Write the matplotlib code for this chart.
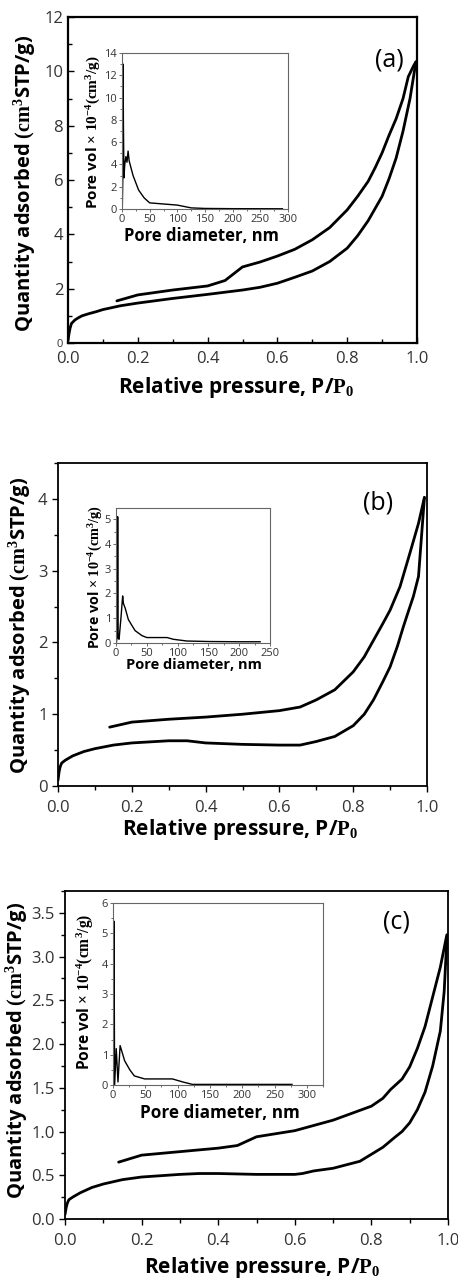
import matplotlib
matplotlib.use("Agg")
import matplotlib.pyplot as plt
from matplotlib.ticker import MultipleLocator, FormatStrFormatter

plt.rcParams['font.family'] = ['Open Sans', 'DejaVu Sans']
plt.rcParams['mathtext.fontset'] = 'custom'
plt.rcParams['mathtext.rm'] = 'Liberation Serif'
plt.rcParams['mathtext.bf'] = 'Liberation Serif:bold'
plt.rcParams['mathtext.it'] = 'Liberation Serif:italic'

# ---------------- data (a) ----------------
a_ads_x = [0.0, 0.003, 0.006, 0.01, 0.02, 0.03, 0.04, 0.06, 0.08, 0.1, 0.15, 0.2, 0.3, 0.4, 0.5, 0.55, 0.6, 0.65, 0.7, 0.75, 0.8, 0.83, 0.86, 0.88, 0.9, 0.92, 0.94, 0.96, 0.98, 0.99, 0.997]
a_ads_y = [0.1, 0.35, 0.55, 0.72, 0.85, 0.93, 1.0, 1.08, 1.15, 1.23, 1.37, 1.47, 1.64, 1.79, 1.95, 2.05, 2.2, 2.42, 2.65, 3.0, 3.49, 3.95, 4.5, 4.95, 5.4, 6.05, 6.8, 7.8, 9.0, 9.8, 10.35]
a_des_x = [0.14, 0.2, 0.3, 0.4, 0.45, 0.5, 0.55, 0.6, 0.65, 0.7, 0.75, 0.8, 0.83, 0.86, 0.88, 0.9, 0.92, 0.94, 0.96, 0.975, 0.99, 0.997]
a_des_y = [1.55, 1.77, 1.95, 2.1, 2.3, 2.8, 2.98, 3.2, 3.45, 3.8, 4.25, 4.9, 5.4, 5.95, 6.45, 7.0, 7.65, 8.25, 9.0, 9.8, 10.2, 10.35]
a_pore_x = [0.5, 1.5, 2.0, 2.5, 3.5, 5, 7, 9, 11, 13, 20, 30, 40, 50, 75, 100, 125, 150, 200, 290]
a_pore_y = [0.0, 3.0, 13.0, 8.0, 2.8, 4.0, 4.7, 4.2, 5.2, 4.3, 3.0, 1.7, 1.0, 0.55, 0.45, 0.35, 0.1, 0.05, 0.03, 0.02]

# ---------------- data (b) ----------------
b_ads_x = [0.0, 0.003, 0.006, 0.01, 0.02, 0.04, 0.07, 0.1, 0.15, 0.2, 0.3, 0.35, 0.4, 0.5, 0.6, 0.656, 0.7, 0.75, 0.8, 0.83, 0.855, 0.88, 0.9, 0.92, 0.936, 0.95, 0.963, 0.977, 0.985, 0.993]
b_ads_y = [0.08, 0.2, 0.27, 0.32, 0.36, 0.42, 0.48, 0.52, 0.57, 0.6, 0.63, 0.63, 0.6, 0.58, 0.57, 0.57, 0.62, 0.69, 0.84, 1.0, 1.2, 1.45, 1.66, 1.95, 2.22, 2.44, 2.64, 2.92, 3.47, 4.02]
b_des_x = [0.14, 0.2, 0.3, 0.4, 0.5, 0.6, 0.656, 0.7, 0.75, 0.8, 0.83, 0.855, 0.88, 0.9, 0.927, 0.954, 0.977, 0.993]
b_des_y = [0.82, 0.89, 0.93, 0.96, 1.0, 1.05, 1.1, 1.2, 1.34, 1.59, 1.8, 2.03, 2.26, 2.45, 2.78, 3.25, 3.66, 4.02]
b_pore_x = [0.5, 2.0, 2.7, 3.5, 5, 8, 10.8, 12, 15, 20, 26, 31, 42, 50, 70, 83, 93, 115, 150, 200, 234]
b_pore_y = [0.0, 0.3, 5.1, 0.2, 0.15, 1.0, 1.9, 1.6, 1.4, 0.95, 0.7, 0.5, 0.3, 0.22, 0.22, 0.22, 0.15, 0.08, 0.06, 0.05, 0.05]

# ---------------- data (c) ----------------
c_ads_x = [0.0, 0.003, 0.006, 0.01, 0.02, 0.04, 0.07, 0.1, 0.15, 0.2, 0.3, 0.35, 0.4, 0.5, 0.6, 0.62, 0.65, 0.7, 0.77, 0.8, 0.83, 0.86, 0.88, 0.9, 0.92, 0.94, 0.96, 0.97, 0.98, 0.99, 0.997]
c_ads_y = [0.05, 0.13, 0.18, 0.22, 0.25, 0.3, 0.36, 0.4, 0.45, 0.48, 0.51, 0.52, 0.52, 0.51, 0.51, 0.52, 0.55, 0.58, 0.66, 0.74, 0.82, 0.93, 1.0, 1.1, 1.25, 1.45, 1.75, 1.95, 2.15, 2.6, 3.2]
c_des_x = [0.14, 0.2, 0.3, 0.4, 0.45, 0.5, 0.6, 0.7, 0.8, 0.83, 0.85, 0.88, 0.9, 0.92, 0.94, 0.96, 0.98, 0.997]
c_des_y = [0.65, 0.73, 0.77, 0.81, 0.84, 0.94, 1.01, 1.13, 1.29, 1.38, 1.48, 1.6, 1.74, 1.95, 2.2, 2.54, 2.88, 3.25]
c_pore_x = [0.5, 1.5, 2.5, 5, 7.7, 11, 18, 26, 33, 49, 92, 108, 123, 200, 277]
c_pore_y = [0.0, 5.4, 0.0, 1.2, 0.1, 1.3, 0.8, 0.5, 0.3, 0.2, 0.2, 0.1, 0.02, 0.02, 0.02]

W, H = 458, 1280
fig = plt.figure(figsize=(W / 100, H / 100), dpi=100)


def rect(l, r, t, b):
    return [l / W, (H - b) / H, (r - l) / W, (b - t) / H]


def ftxt(x, y, s, **kw):
    fig.text(x / W, (H - y) / H, s, **kw)


TICK_COLOR = '#333333'
YLAB = r'Quantity adsorbed $\mathbf{(cm^{3}}$STP/g)'
XLAB = r'Relative pressure, P/$\mathbf{P_{0}}$'
ILAB_Y = r'Pore vol $\mathbf{\times\ 10^{-4}(cm^{3}/g)}$'
ILAB_X = 'Pore diameter, nm'


def main_axes(box, ads_x, ads_y, des_x, des_y, ylim, ymaj, ymin, direction, lw_frame, yfmt=None):
    ax = fig.add_axes(rect(*box))
    ax.plot(ads_x, ads_y, color='black', lw=2.0, solid_capstyle='round', solid_joinstyle='round')
    ax.plot(des_x, des_y, color='black', lw=2.0, solid_capstyle='round', solid_joinstyle='round')
    ax.set_xlim(0, 1.0)
    ax.set_ylim(*ylim)
    ax.xaxis.set_major_locator(MultipleLocator(0.2))
    ax.xaxis.set_minor_locator(MultipleLocator(0.1))
    ax.yaxis.set_major_locator(MultipleLocator(ymaj))
    ax.yaxis.set_minor_locator(MultipleLocator(ymin))
    ax.xaxis.set_major_formatter(FormatStrFormatter('%.1f'))
    if yfmt:
        ax.yaxis.set_major_formatter(FormatStrFormatter(yfmt))
    ax.tick_params(which='both', direction=direction, colors='black', labelcolor=TICK_COLOR,
                   labelsize=12, width=1.0, top=False, right=False)
    ax.tick_params(which='major', length=4)
    ax.tick_params(which='minor', length=3)
    ax.tick_params(axis='x', pad=6)
    for s in ax.spines.values():
        s.set_linewidth(lw_frame)
    return ax


def inset_axes(box, px, py, xlim, xmaj, ylim, ymaj):
    ax = fig.add_axes(rect(*box))
    ax.plot(px, py, color='black', lw=1.0)
    ax.set_xlim(*xlim)
    ax.set_ylim(*ylim)
    ax.xaxis.set_major_locator(MultipleLocator(xmaj))
    ax.xaxis.set_minor_locator(MultipleLocator(xmaj / 2))
    ax.yaxis.set_major_locator(MultipleLocator(ymaj))
    ax.yaxis.set_minor_locator(MultipleLocator(ymaj / 2))
    ax.tick_params(which='both', direction='out', colors='#555555', labelcolor='#333333',
                   labelsize=8, width=0.6, pad=1)
    ax.tick_params(which='major', length=2.5)
    ax.tick_params(which='minor', length=1.5)
    for s in ax.spines.values():
        s.set_linewidth(0.8)
        s.set_color('#666666')
    return ax


# ---------------- panel (a) ----------------
axa = main_axes((68, 417, 17, 343), a_ads_x, a_ads_y, a_des_x, a_des_y, (0, 12), 2, 1, 'in', 1.6)
for lab in axa.get_yticklabels():
    if lab.get_text() == '0':
        lab.set_fontsize(8)
ftxt(389, 60, '(a)', fontsize=18, ha='center', va='center')
ina = inset_axes((122, 288, 53, 209), a_pore_x, a_pore_y, (0, 300), 50, (0, 14), 2)
ftxt(236, 387, XLAB, fontsize=15, fontweight='bold', ha='center', va='center')
ftxt(25, 183, YLAB, fontsize=14.5, fontweight='bold', ha='center', va='center', rotation=90)
ftxt(201, 236, ILAB_X, fontsize=12, fontweight='bold', ha='center', va='center')
ftxt(94, 132, ILAB_Y, fontsize=11, fontweight='bold', ha='center', va='center', rotation=90)

# ---------------- panel (b) ----------------
axb = main_axes((58, 427, 463, 786), b_ads_x, b_ads_y, b_des_x, b_des_y, (0, 4.5), 1, 0.5, 'out', 1.3)
ftxt(378, 503, '(b)', fontsize=18, ha='center', va='center')
inb = inset_axes((116, 270, 508, 643), b_pore_x, b_pore_y, (0, 250), 50, (0, 5.45), 1)
ftxt(240, 830, XLAB, fontsize=15, fontweight='bold', ha='center', va='center')
ftxt(20, 625, YLAB, fontsize=14.5, fontweight='bold', ha='center', va='center', rotation=90)
ftxt(194, 665, ILAB_X, fontsize=10.5, fontweight='bold', ha='center', va='center')
ftxt(96, 577, ILAB_Y, fontsize=10.3, fontweight='bold', ha='center', va='center', rotation=90)

# ---------------- panel (c) ----------------
axc = main_axes((65, 448, 891, 1219), c_ads_x, c_ads_y, c_des_x, c_des_y, (0, 3.75), 0.5, 0.25, 'out', 1.3, '%.1f')
ftxt(396, 922, '(c)', fontsize=18, ha='center', va='center')
inc = inset_axes((113, 323, 903, 1085), c_pore_x, c_pore_y, (0, 325), 50, (0, 6), 1)
ftxt(262, 1267, XLAB, fontsize=15, fontweight='bold', ha='center', va='center')
ftxt(17, 1050, YLAB, fontsize=14.5, fontweight='bold', ha='center', va='center', rotation=90)
ftxt(220, 1113, ILAB_X, fontsize=12.3, fontweight='bold', ha='center', va='center')
ftxt(85, 992, ILAB_Y, fontsize=11.2, fontweight='bold', ha='center', va='center', rotation=90)

fig.savefig('out.png', dpi=100)
